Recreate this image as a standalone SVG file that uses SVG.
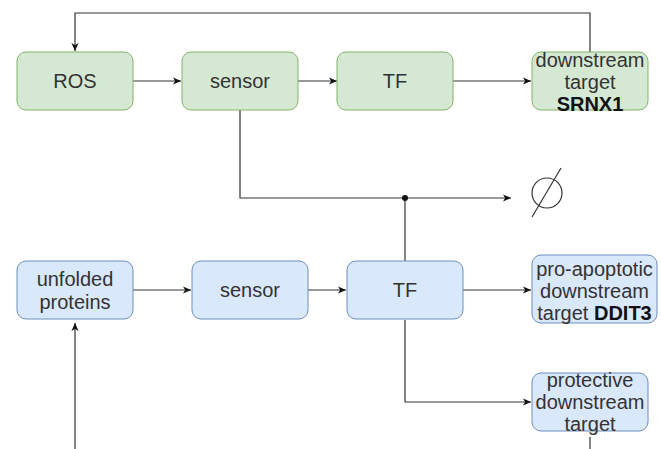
<svg xmlns="http://www.w3.org/2000/svg" width="661" height="449" viewBox="0 0 661 449">
  <style>
    .g rect { fill: #d5e8d4; stroke: #82b366; stroke-width: 1; }
    .b rect { fill: #dae8fc; stroke: #6c8ebf; stroke-width: 1; }
    text { font-family: "Liberation Sans", Arial, sans-serif; font-size: 20px; fill: #333333; text-anchor: middle; }
    .bold { font-weight: bold; fill: #111111; }
    .edge { fill: none; stroke: #333333; stroke-width: 1.2; }
    .edge.arrow { marker-end: url(#arr); }
  </style>
  <defs>
    <marker id="arr" viewBox="0 0 10 10" refX="9" refY="5" markerWidth="9" markerHeight="9" markerUnits="userSpaceOnUse" orient="auto">
      <path d="M0,1 L9,5 L0,9 L2.5,5 Z" fill="#111111"/>
    </marker>
  </defs>

  <!-- connectors -->
  <g id="connectors">
    <path class="edge arrow" d="M590,52 V13 H75 V51"/>
    <path class="edge arrow" d="M133,81 H181"/>
    <path class="edge arrow" d="M298,81 H337"/>
    <path class="edge arrow" d="M453,81 H531"/>
    <path class="edge arrow" d="M240,110 V198 H511"/>
    <path class="edge" d="M405,261 V198"/>
    <circle cx="405" cy="198" r="3" fill="#111111"/>
    <path class="edge arrow" d="M133,290 H191"/>
    <path class="edge arrow" d="M308,290 H346"/>
    <path class="edge arrow" d="M463,290 H531"/>
    <path class="edge arrow" d="M405,320 V402 H531"/>
    <path class="edge arrow" d="M75,449 V323"/>
    <path class="edge" d="M590,437 V449"/>
    <!-- degradation (empty set) symbol -->
    <circle cx="547" cy="193" r="15" fill="none" stroke="#333333" stroke-width="1.2"/>
    <path class="edge" d="M532,217 L561,168"/>
  </g>

  <!-- ROS pathway -->
  <g id="ros" class="g">
    <rect x="17" y="52" width="116" height="58" rx="9"/>
    <text x="75" y="88">ROS</text>
  </g>
  <g id="sensor-ros" class="g">
    <rect x="182" y="52" width="116" height="58" rx="9"/>
    <text x="240" y="88">sensor</text>
  </g>
  <g id="tf-ros" class="g">
    <rect x="337" y="52" width="116" height="58" rx="9"/>
    <text x="395" y="88">TF</text>
  </g>
  <g id="target-srnx1" class="g">
    <rect x="532" y="52" width="116" height="58" rx="9"/>
    <text x="590" y="67">downstream</text>
    <text x="590" y="89">target</text>
    <text x="590" y="111" class="bold">SRNX1</text>
  </g>

  <!-- unfolded protein pathway -->
  <g id="unfolded" class="b">
    <rect x="17" y="261" width="116" height="58" rx="9"/>
    <text x="75" y="286">unfolded</text>
    <text x="75" y="309">proteins</text>
  </g>
  <g id="sensor-upr" class="b">
    <rect x="192" y="261" width="116" height="58" rx="9"/>
    <text x="250" y="297">sensor</text>
  </g>
  <g id="tf-upr" class="b">
    <rect x="347" y="261" width="116" height="58" rx="9"/>
    <text x="405" y="297">TF</text>
  </g>
  <g id="target-ddit3" class="b">
    <rect x="532" y="255" width="125" height="68" rx="9"/>
    <text x="594.5" y="276">pro-apoptotic</text>
    <text x="594.5" y="298">downstream</text>
    <text x="594.5" y="320">target <tspan class="bold">DDIT3</tspan></text>
  </g>
  <g id="target-protective" class="b">
    <rect x="532" y="373" width="116" height="58" rx="9"/>
    <text x="590" y="387">protective</text>
    <text x="590" y="409">downstream</text>
    <text x="590" y="431">target</text>
  </g>
</svg>
